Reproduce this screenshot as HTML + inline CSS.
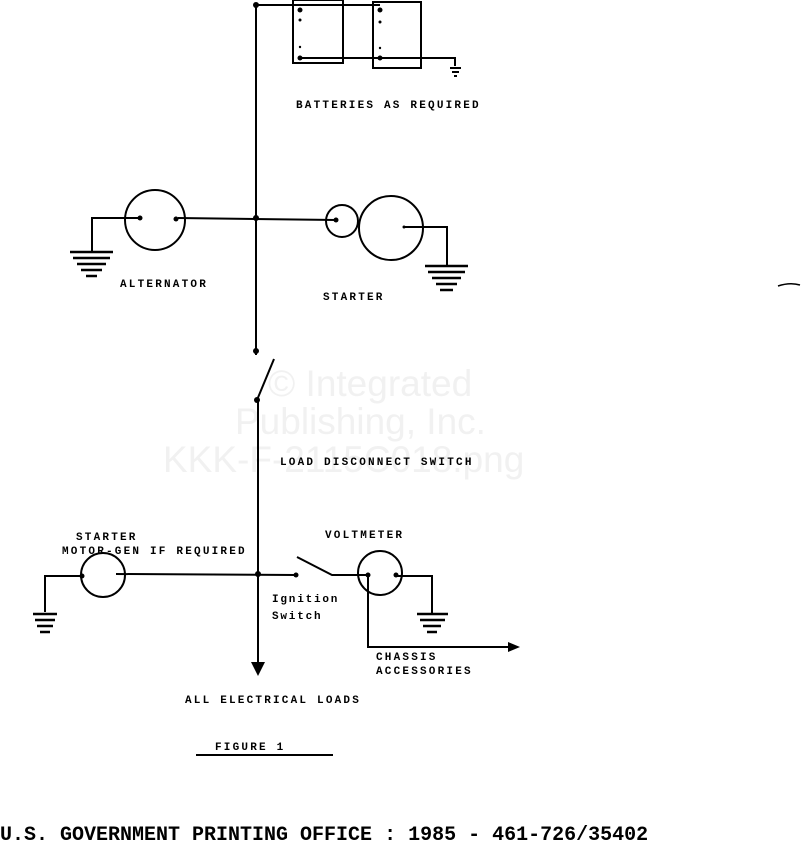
<!DOCTYPE html>
<html><head><meta charset="utf-8"><style>
html,body{margin:0;padding:0;background:#fff;}
svg{display:block;}
text{font-family:"Liberation Mono",monospace;fill:#000;}
.s{font-size:11px;font-weight:bold;letter-spacing:2.2px;}
.w{font-family:"Liberation Sans",sans-serif;font-size:37px;fill:#f1f1f1;}
</style></head><body>
<svg width="801" height="846" viewBox="0 0 801 846" xmlns="http://www.w3.org/2000/svg">
<text class="w" x="268" y="396">© Integrated</text>
<text class="w" x="235" y="434">Publishing, Inc.</text>
<text class="w" x="163" y="472">KKK-F-2115C018.png</text>
<g fill="none" stroke="#000" stroke-width="2">
<polyline points="256,355 256,5 380,5"/>
<rect x="293" y="0" width="50" height="63"/>
<rect x="373" y="2" width="48" height="66"/>
<polyline points="300,58 455,58 455,66"/>
<line x1="450" y1="68" x2="461" y2="68"/><line x1="452" y1="72" x2="459" y2="72"/><line x1="454" y1="76" x2="457" y2="76"/>
<circle cx="155" cy="220" r="30"/>
<polyline points="140,218 92,218 92,252"/>
<line x1="178" y1="218" x2="336" y2="220"/>
<circle cx="342" cy="221" r="16"/>
<circle cx="391" cy="228" r="32"/>
<polyline points="404,227 447,227 447,265"/>
<line x1="257" y1="400" x2="274" y2="359"/>
<line x1="258" y1="400" x2="258" y2="664"/>
<circle cx="103" cy="575" r="22"/>
<polyline points="82,576 45,576 45,612"/>
<line x1="116" y1="574" x2="296" y2="575"/>
<polyline points="297,557 332,575 368,575"/>
<circle cx="380" cy="573" r="22"/>
<polyline points="396,576 432,576 432,613"/>
<polyline points="368,575 368,647 510,647"/>
<line x1="196" y1="755" x2="333" y2="755"/>
<path d="M778,286 Q790,282 800,285" stroke-width="1.5"/>
</g>
<g stroke="#000" stroke-width="2.5">
<line x1="70" y1="252" x2="113" y2="252"/><line x1="73" y1="258" x2="110" y2="258"/><line x1="77" y1="264" x2="106" y2="264"/><line x1="81" y1="270" x2="102" y2="270"/><line x1="86" y1="276" x2="97" y2="276"/>
<line x1="425" y1="266" x2="468" y2="266"/><line x1="428" y1="272" x2="465" y2="272"/><line x1="432" y1="278" x2="461" y2="278"/><line x1="436" y1="284" x2="457" y2="284"/><line x1="440" y1="290" x2="453" y2="290"/>
<line x1="33" y1="614" x2="57" y2="614"/><line x1="35" y1="620" x2="55" y2="620"/><line x1="37" y1="626" x2="53" y2="626"/><line x1="40" y1="632" x2="50" y2="632"/>
<line x1="417" y1="614" x2="448" y2="614"/><line x1="420" y1="620" x2="445" y2="620"/><line x1="423" y1="626" x2="441" y2="626"/><line x1="427" y1="632" x2="437" y2="632"/>
</g>
<g fill="#000">
<circle cx="256" cy="5" r="3"/>
<circle cx="300" cy="10" r="2.5"/><circle cx="300" cy="58" r="2.5"/><circle cx="380" cy="10" r="2.5"/><circle cx="380" cy="58" r="2.5"/>
<circle cx="300" cy="20" r="1.5"/><circle cx="380" cy="22" r="1.5"/><circle cx="300" cy="47" r="1.2"/><circle cx="380" cy="48" r="1.2"/>
<circle cx="140" cy="218" r="2.5"/><circle cx="176" cy="219" r="2.5"/><circle cx="256" cy="218" r="3"/><circle cx="336" cy="220" r="2.5"/><circle cx="404" cy="227" r="1.5"/>
<circle cx="256" cy="351" r="3"/><circle cx="257" cy="400" r="3"/>
<circle cx="258" cy="574" r="3"/><circle cx="296" cy="575" r="2.5"/><circle cx="368" cy="575" r="2.5"/><circle cx="396" cy="575" r="2.5"/><circle cx="82" cy="576" r="2.5"/>
<polygon points="251,662 265,662 258,676"/>
<polygon points="508,642 520,647 508,652"/>
</g>
<text class="s" x="296" y="108">BATTERIES AS REQUIRED</text>
<text class="s" x="120" y="287">ALTERNATOR</text>
<text class="s" x="323" y="300">STARTER</text>
<text class="s" x="280" y="465">LOAD DISCONNECT SWITCH</text>
<text class="s" x="76" y="540">STARTER</text>
<text class="s" x="62" y="554">MOTOR-GEN IF REQUIRED</text>
<text class="s" x="325" y="538">VOLTMETER</text>
<text class="s" x="272" y="602" style="letter-spacing:1.8px">Ignition</text>
<text class="s" x="272" y="619" style="letter-spacing:1.8px">Switch</text>
<text class="s" x="376" y="660">CHASSIS</text>
<text class="s" x="376" y="674">ACCESSORIES</text>
<text class="s" x="185" y="703">ALL ELECTRICAL LOADS</text>
<text class="s" x="215" y="750">FIGURE  1</text>
<text x="0" y="840" style="font-size:20px;font-weight:bold;">U.S. GOVERNMENT PRINTING OFFICE : 1985 - 461-726/35402</text>
</svg>
</body></html>
